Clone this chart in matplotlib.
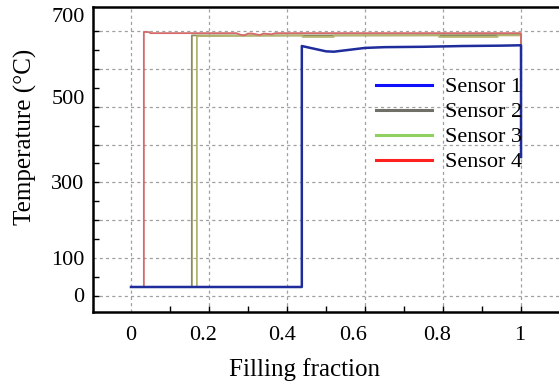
import matplotlib
matplotlib.use("Agg")
import matplotlib.pyplot as plt
from matplotlib.lines import Line2D

# sensor traces: filling fraction vs temperature (deg C)
fill_s1 = [0, 0.438, 0.438, 0.46, 0.50, 0.52, 0.56, 0.60, 0.65, 0.75, 0.85, 0.95, 1.0, 1.0]
temp_s1 = [24, 24, 660, 655, 646, 645, 650, 655, 657, 658, 660, 661, 662, 367]

fill_s2 = [0, 0.156, 0.156, 0.50, 1.0, 1.0]
temp_s2 = [24, 24, 688, 688, 689, 665]

fill_s3 = [0, 0.169, 0.169, 0.44, 0.44, 0.52, 0.52, 0.79, 0.79, 0.94, 0.94, 1.0, 1.0]
temp_s3 = [24, 24, 686, 688, 684, 684, 688, 688, 684, 684, 688, 688, 665]

fill_s4 = [0, 0.033, 0.033, 0.045, 0.05, 0.27, 0.28, 0.29, 0.30, 0.31, 0.33, 0.34, 0.36, 0.37, 0.40, 1.0, 1.0]
temp_s4 = [24, 24, 697, 697, 694, 694, 690, 688, 693, 693, 689, 693, 691, 694, 694, 694, 663]

labels = ["Sensor 1", "Sensor 2", "Sensor 3", "Sensor 4"]
plot_colors = ["#1f2c9c", "#8c8c5a", "#b4b46e", "#d46a6a"]
legend_colors = ["#1010ff", "#707068", "#90d060", "#ff2020"]

# tick labels as they sit in the source figure
xtick_pos = [0, 0.185, 0.387, 0.569, 0.785, 0.997]
xtick_lab = ["0", "0.2", "0.4", "0.6", "0.8", "1"]
ytick_pos = [3, 100, 301, 526, 742]
ytick_lab = ["0", "100", "300", "500", "700"]
x_grid = [0, 0.2, 0.4, 0.6, 0.8, 1.0]
y_grid = [0, 100, 200, 300, 400, 500, 600, 700]

plt.rcParams["font.family"] = ["Liberation Serif", "DejaVu Serif"]

fig = plt.figure(figsize=(5.59, 3.85), dpi=100)
ax = fig.add_axes([93 / 559, 1 - 312 / 385, (564 - 93) / 559, 305 / 385])

for g in x_grid:
    ax.axvline(g, color="#a0a0a0", lw=0.9, ls=(0, (2.5, 2.5)), zorder=0)
for g in y_grid:
    ax.axhline(g, color="#a0a0a0", lw=0.9, ls=(0, (2.5, 2.5)), zorder=0)

ax.plot(fill_s1, temp_s1, color=plot_colors[0], lw=1.8, zorder=3)
ax.plot(fill_s2, temp_s2, color=plot_colors[1], lw=1.3, zorder=2)
ax.plot(fill_s3, temp_s3, color=plot_colors[2], lw=1.3, zorder=2)
ax.plot(fill_s4, temp_s4, color=plot_colors[3], lw=1.3, zorder=2)

ax.set_xlim(-0.0974, 1.1102)
ax.set_ylim(-42, 763)

ax.set_xticks(xtick_pos)
ax.set_xticklabels(xtick_lab, fontsize=16)
ax.set_yticks(ytick_pos)
ax.set_yticklabels(ytick_lab, fontsize=16)
ax.tick_params(axis="x", which="major", length=0, pad=10)
ax.tick_params(axis="y", which="major", length=0, pad=6)
ax.set_xticks([i / 10 for i in range(11)], minor=True)
ax.set_yticks([i * 50 for i in range(15)], minor=True)
ax.tick_params(which="minor", direction="in", length=4, width=1)

for side in ["left", "top", "bottom"]:
    ax.spines[side].set_linewidth(1.8)
ax.spines["right"].set_visible(False)

ax.set_xlabel("Filling fraction", fontsize=18)
ax.xaxis.set_label_coords(0.448, -0.15)
ax.set_ylabel("Temperature (°C)", fontsize=18)
ax.yaxis.set_label_coords(-0.118, 0.574)

handles = [Line2D([], [], color=c, lw=2.2) for c in legend_colors]
ax.legend(handles, labels, loc="upper left", bbox_to_anchor=(0.583, 0.80),
          borderaxespad=0, frameon=False, fontsize=16, handlelength=2.5,
          handletextpad=0.6, labelspacing=0.2)

fig.savefig("out.png", dpi=100)
